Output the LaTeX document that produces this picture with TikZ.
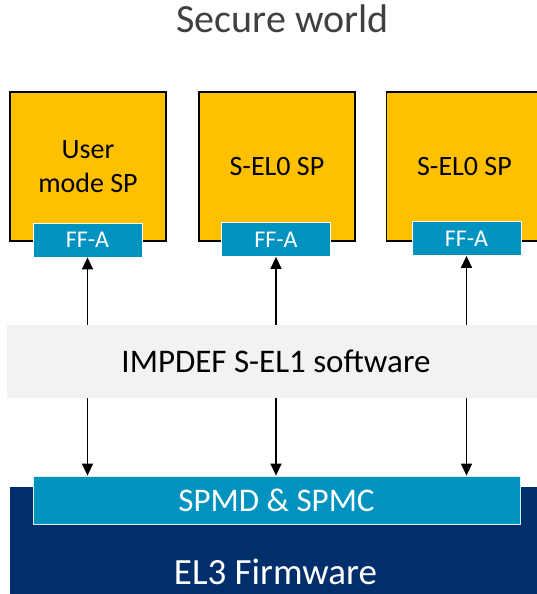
\documentclass[tikz,border=0pt]{standalone}
\usepackage{fontspec}
\setmainfont{Carlito}
\usetikzlibrary{arrows.meta}
\definecolor{spyellow}{HTML}{FFC000}
\definecolor{ffablue}{HTML}{0093BF}
\definecolor{fwnavy}{HTML}{002F6C}
\definecolor{bandgrey}{HTML}{F2F2F2}
\definecolor{titlegrey}{HTML}{404040}
\newcommand{\fsz}[1]{\fontsize{#1bp}{1.2\dimexpr#1bp\relax}\selectfont}
\begin{document}
\begin{tikzpicture}[x=1bp,y=-1bp,
  spbox/.style={draw=black, line width=1.5bp, fill=spyellow, inner sep=0pt,
    minimum width=156bp, minimum height=149bp, align=center,
    font=\fontsize{28bp}{34bp}\selectfont},
  ffabox/.style={draw=white, line width=0.8bp, fill=ffablue, inner sep=0pt,
    minimum width=109bp, minimum height=34bp, text=white, font=\fsz{24}},
  arr/.style={draw=black, line width=1.5bp, -{Triangle[length=12bp,width=11bp]}},
  ]
\useasboundingbox (0,0) rectangle (537,594);
\clip (0,0) rectangle (537,594);

% title
\node[anchor=base, text=titlegrey, font=\fsz{40}, inner sep=0pt] (title) at (282.5,33) {Secure world};

% secure partitions
\node[spbox] (sp1) at (88,166.5) {User\\mode SP};
\node[spbox] (sp2) at (277,166.5) {S-EL0 SP};
\node[spbox] (sp3) at (464.5,166.5) {S-EL0 SP};

% FF-A interfaces
\node[ffabox] (ffa1) at (87.5,240) {FF-A};
\node[ffabox] (ffa2) at (276,239.5) {FF-A};
\node[ffabox] (ffa3) at (466.5,238.5) {FF-A};

% S-EL1 band
\node[fill=bandgrey, inner sep=0pt, minimum width=538bp, minimum height=73bp,
      font=\fsz{33}] (band) at (276,361.5) {\raisebox{-2bp}{IMPDEF S-EL1 software}};

% EL3 firmware
\node[fill=fwnavy, inner sep=0pt, minimum width=536bp, minimum height=116bp]
      (el3) at (277.6,545) {};
\node[anchor=base, text=white, font=\fsz{37}, inner sep=0pt] (el3label) at (275.5,584) {EL3 Firmware};

% SPMD and SPMC
\node[draw=white!85!ffablue, line width=0.8bp, fill=ffablue, inner sep=0pt,
      minimum width=487bp, minimum height=48bp, text=white, font=\fsz{33}]
      (spm) at (276.5,500) {\raisebox{-3bp}{SPMD \& SPMC}};

% connectors
\foreach \f in {ffa1,ffa2,ffa3}{
  \draw[arr] (band.north -| \f.south) -- (\f.south);
  \draw[arr] (band.south -| \f.south) -- (spm.north -| \f.south);
}
\end{tikzpicture}
\end{document}
